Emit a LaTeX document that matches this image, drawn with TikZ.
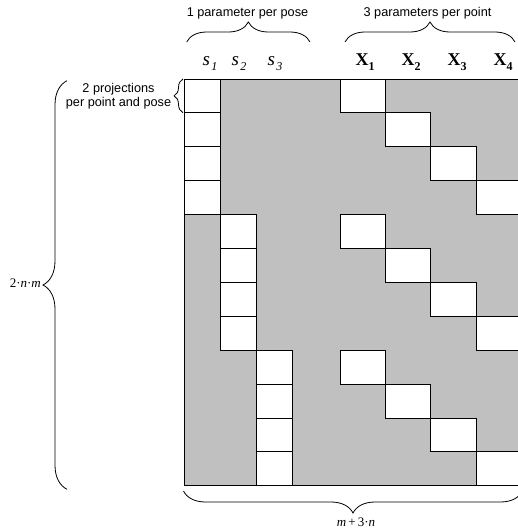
\documentclass[tikz,border=0pt]{standalone}
\usepackage{fontspec}
\setmainfont{Liberation Sans}
\newfontfamily\seriffam{Liberation Serif}
\usetikzlibrary{decorations.pathreplacing}
\definecolor{matgray}{RGB}{192,192,192}
\newcommand{\slab}[1]{{\seriffam\itshape\fontsize{19}{19}\selectfont s\kern1.2pt\raisebox{-0.28em}{\fontsize{12}{12}\selectfont #1}}}
\newcommand{\xlab}[1]{{\seriffam\bfseries\fontsize{18}{18}\selectfont X\raisebox{-0.28em}{\fontsize{12}{12}\selectfont #1}}}
\begin{document}
\begin{tikzpicture}[x=1pt,y=-1pt,
  cell/.style={draw=black, fill=white, line width=1pt},
  brc/.style={decorate, decoration={brace, amplitude=#1}, line width=0.8pt},
  lab/.style={font=\fontsize{12.7}{14}\selectfont, align=center, inner sep=0pt},
  mlab/.style={font=\seriffam\fontsize{13}{13}\selectfont, inner sep=0pt},
  clab/.style={anchor=base, inner sep=0pt}]
\useasboundingbox (0,0) rectangle (518,530);
\clip (0,0) rectangle (518,530);
\def\rh{33.9}
% matrix background
\fill[matgray] (184,79) rectangle (521.6,485.8);
\foreach \p in {0,1,2} {
  \foreach \r in {0,...,3} {
    \draw[cell] ({184+36*\p},{79+\rh*(4*\p+\r)}) rectangle ++(36,\rh);
  }
  \foreach \k in {0,...,3} {
    \draw[cell] ({340.3+45.33*\k},{79+\rh*(4*\p+\k)}) rectangle ++(45.33,\rh);
  }
}
\draw[line width=1pt] (184,79) rectangle (521.6,485.8);
% braces
\draw[brc=20] (186.7,42) -- (310,42);
\draw[brc=20] (345,42) -- (515,42);
\draw[brc=24] (67,489.3) -- (67,80.7);
\draw[brc=9] (183,112.7) -- (183,79);
\draw[brc=22] (522.5,491) -- (183.5,491);
% labels
\node[lab] (pose) at (247.5,13) {1 parameter per pose};
\node[lab] (point) at (427.5,13) {3 parameters per point};
\node[lab] (proj) at (118.5,96) {2 projections\\per point and pose};
\node[mlab, anchor=east] (rows) at (41,283) {2·\textit{n}·\textit{m}};
\node[mlab] (cols) at (356,522) {\textit{m}\,+\,3·\textit{n}};
\node[clab] (s1) at (210,65) {\slab{1}};
\node[clab] (s2) at (239,65) {\slab{2}};
\node[clab] (s3) at (275,65) {\slab{3}};
\node[clab] (x1) at (365,65) {\xlab{1}};
\node[clab] (x2) at (411,65) {\xlab{2}};
\node[clab] (x3) at (457,65) {\xlab{3}};
\node[clab] (x4) at (503,65) {\xlab{4}};
\end{tikzpicture}
\end{document}
